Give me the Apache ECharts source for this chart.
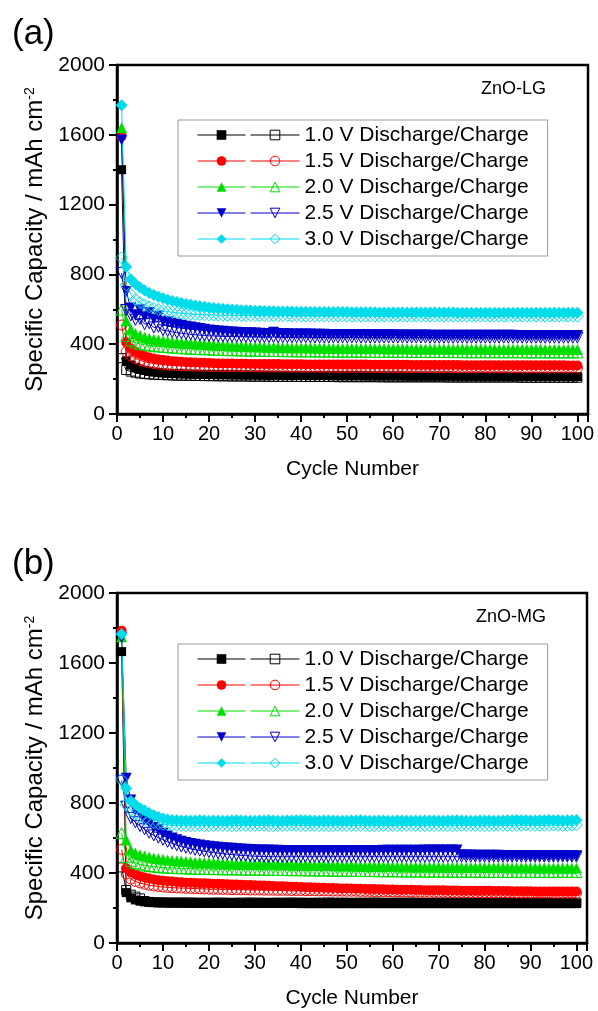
<!DOCTYPE html>
<html>
<head>
<meta charset="utf-8">
<script src="https://cdn.jsdelivr.net/npm/echarts@6/dist/echarts.min.js"></script>
<style>
html,body{margin:0;padding:0;background:#fff;}
#chart{width:598px;height:1011px;}
</style>
</head>
<body>
<div id="chart"></div>
<script>
// ---------- data ----------
const cycles = [1,2,3,4,5,6,7,8,9,10,11,12,13,14,15,16,17,18,19,20,21,22,23,24,25,26,27,28,29,30,
31,32,33,34,35,36,37,38,39,40,41,42,43,44,45,46,47,48,49,50,51,52,53,54,55,56,57,58,59,60,
61,62,63,64,65,66,67,68,69,70,71,72,73,74,75,76,77,78,79,80,81,82,83,84,85,86,87,88,89,90,
91,92,93,94,95,96,97,98,99,100];

const xTicks = [0,10,20,30,40,50,60,70,80,90,100];
const yTicks = [0,400,800,1200,1600,2000];
const voltages = ['1.0 V','1.5 V','2.0 V','2.5 V','3.0 V'];
const panelNames = ['ZnO-LG','ZnO-MG'];
const panelTags = ['(a)','(b)'];

// Panel (a) ZnO-LG
const a_dis_10 = [1400,305,280,266,256,249,244,240,237,235,233,232,231,230,229,228,228,227,227,226,
226,225,225,225,224,224,224,223,223,223,223,222,222,222,222,221,221,221,221,221,
220,220,220,220,220,220,219,219,219,219,219,219,219,218,218,218,218,218,218,218,
218,218,217,217,217,217,217,217,217,217,217,217,217,216,216,216,216,216,216,216,
216,216,216,216,216,215,215,215,215,215,215,215,215,215,215,215,215,215,215,214];
const a_chg_10 = [320,252,243,237,232,229,227,225,224,223,222,221,220,220,219,219,218,218,217,217,
217,216,216,216,215,215,215,215,214,214,214,214,214,213,213,213,213,213,213,212,
212,212,212,212,212,212,212,211,211,211,211,211,211,211,211,211,211,210,210,210,
210,210,210,210,210,210,210,210,210,210,210,209,209,209,209,209,209,209,209,209,
209,209,209,209,209,209,209,208,208,208,208,208,208,208,208,208,208,208,208,208];
const a_dis_15 = [1590,410,376,356,342,332,324,318,313,309,306,303,301,299,297,296,295,294,293,292,
291,290,290,289,289,288,288,288,287,287,287,286,286,286,286,285,285,285,285,285,
284,284,284,284,284,284,283,283,283,283,283,283,283,283,282,282,282,282,282,282,
282,282,282,281,281,281,281,281,281,281,281,281,281,281,280,280,280,280,280,280,
280,280,280,280,280,280,279,279,279,279,279,279,279,279,279,279,279,278,278,278];
const a_chg_15 = [510,357,333,318,307,299,293,289,286,283,281,279,278,277,276,275,274,274,273,273,
272,272,272,271,271,271,270,270,270,270,270,269,269,269,269,269,269,268,268,268,
268,268,268,268,268,267,267,267,267,267,267,267,267,267,267,266,266,266,266,266,
266,266,266,266,266,266,266,266,265,265,265,265,265,265,265,265,265,265,265,265,
265,264,264,264,264,264,264,264,264,264,264,264,264,264,264,264,264,264,264,263];
const a_dis_20 = [1640,535,485,462,450,440,433,428,424,420,417,414,411,409,407,405,403,401,399,397,
395,394,392,391,390,389,388,387,386,385,385,384,383,383,382,381,381,380,380,380,
379,379,378,378,378,377,377,377,376,376,376,376,375,375,375,375,375,374,374,374,
374,374,374,373,373,373,373,373,373,373,373,372,372,372,372,372,372,372,372,372,
372,371,371,371,371,371,371,371,371,371,371,371,370,370,370,370,370,370,370,370];
const a_chg_20 = [598,448,422,410,402,397,393,390,387,385,383,381,379,377,376,374,373,372,371,370,
369,368,367,366,366,365,364,364,363,363,362,362,361,361,361,360,360,360,359,359,
359,359,358,358,358,358,358,357,357,357,357,357,357,356,356,356,356,356,356,356,
356,356,355,355,355,355,355,355,355,355,355,355,355,355,354,354,354,354,354,354,
354,354,354,354,354,354,354,354,353,353,353,353,353,353,353,353,353,353,353,353];
const a_dis_25 = [1570,702,607,568,596,558,580,545,560,532,528,520,514,508,503,498,494,490,486,482,
479,476,474,472,470,468,467,466,465,464,463,462,462,468,461,460,460,459,459,458,
458,458,457,457,457,456,456,456,456,455,455,455,455,455,454,454,454,454,454,454,
453,453,453,453,453,453,453,452,452,452,452,452,452,452,452,451,451,451,451,451,
451,451,451,451,451,451,450,450,450,450,450,450,450,450,450,450,450,450,450,450];
const a_chg_25 = [808,596,565,540,545,515,520,496,500,480,476,470,466,462,459,456,454,452,450,448,
447,446,445,444,444,443,443,442,442,442,441,441,441,441,440,440,440,440,440,440,
440,439,439,439,439,439,439,439,439,439,439,439,438,438,438,438,438,438,438,438,
438,438,438,438,438,438,438,437,437,437,437,437,437,437,437,437,437,437,437,437,
437,437,437,437,437,437,437,437,437,437,437,437,437,437,437,437,437,437,437,437];
const a_dis_30 = [1770,844,772,745,725,708,694,682,672,663,655,648,642,636,631,626,622,618,614,611,
608,605,603,601,599,597,595,594,593,592,591,590,589,589,588,588,587,587,586,586,
586,585,585,585,585,584,584,584,584,584,583,583,583,583,583,583,582,582,582,582,
582,582,582,582,581,581,581,581,581,581,581,581,581,580,580,580,580,580,580,580,
580,580,580,580,580,580,580,580,580,580,580,580,580,580,580,580,580,580,580,580];
const a_chg_30 = [895,740,685,656,638,625,614,605,598,592,587,583,580,577,575,573,571,570,569,568,
567,566,566,565,565,565,564,564,564,564,563,563,563,563,563,563,563,562,562,562,
562,562,562,562,562,562,562,562,562,561,561,561,561,561,561,561,561,561,561,561,
561,561,561,561,561,561,561,561,561,561,561,561,561,561,561,561,561,561,561,561,
561,561,561,561,561,561,561,561,561,561,561,561,561,561,561,561,561,561,561,561];

// Panel (b) ZnO-MG
const b_dis_10 = [1665,288,258,246,239,235,233,232,231,230,230,229,229,229,228,228,228,228,228,227,
227,227,227,227,227,227,226,226,226,226,226,226,226,226,226,226,226,226,226,225,
225,225,225,225,225,225,225,225,225,225,225,225,225,225,225,225,225,225,225,225,
225,225,225,225,225,225,225,225,225,225,225,225,225,225,225,225,225,225,225,225,
225,225,225,225,225,225,225,225,225,225,225,225,225,225,225,225,225,225,225,225];
const b_chg_10 = [432,303,276,265,255,240,235,233,232,232,231,231,231,231,231,231,230,230,230,230,
230,231,230,230,229,230,230,230,231,230,230,230,229,230,230,230,230,231,230,230,
230,229,230,230,230,231,230,230,230,230,229,230,230,230,230,231,230,230,229,230,
230,230,230,231,230,230,230,229,230,230,230,230,231,230,230,230,229,230,230,230,
230,231,230,230,230,230,229,230,230,230,231,230,230,230,230,229,230,230,230,230];
const b_dis_15 = [1785,427,405,392,382,374,368,363,359,356,353,351,349,347,345,344,343,342,341,340,
339,338,337,336,335,334,333,332,331,330,329,328,327,326,325,324,323,322,321,320,
319,318,317,316,316,315,314,313,312,312,311,310,310,309,308,308,307,307,306,306,
305,305,304,304,303,303,302,302,301,301,301,300,300,300,299,299,299,298,298,298,
298,297,297,297,297,296,296,296,296,296,295,295,295,295,295,295,294,294,294,294];
const b_chg_15 = [535,394,366,352,343,336,330,326,323,320,318,316,315,314,313,312,311,310,309,308,
307,307,306,306,305,305,304,304,303,303,303,302,302,302,301,301,301,300,300,300,
299,299,299,298,298,298,297,297,297,296,296,296,295,295,295,294,294,294,293,293,
293,292,292,292,291,291,291,290,290,290,290,289,289,289,289,288,288,288,288,288,
287,287,287,287,287,287,286,286,286,286,286,286,286,286,285,285,285,285,285,285];
const b_dis_20 = [1750,589,531,515,505,497,491,486,482,478,475,472,470,468,466,464,462,461,460,459,
458,457,456,455,454,454,453,452,452,451,451,450,450,449,449,448,448,447,447,446,
446,445,445,444,444,443,443,442,442,441,441,440,440,439,439,438,438,437,437,437,
436,436,436,435,435,435,434,434,434,434,433,433,433,433,432,432,432,432,432,431,
431,431,431,431,430,430,430,430,430,430,430,429,429,429,429,429,429,429,428,428];
const b_chg_20 = [628,492,470,458,450,444,440,437,434,432,430,429,428,427,426,425,424,424,423,423,
422,422,421,421,421,420,420,420,419,419,419,418,418,418,417,417,417,416,416,416,
415,415,415,414,414,414,413,413,413,412,412,412,411,411,411,411,410,410,410,410,
410,409,409,409,409,409,408,408,408,408,408,408,407,407,407,407,407,407,407,407,
406,406,406,406,406,406,406,406,406,406,406,406,406,406,406,406,406,406,406,406];
const b_dis_25 = [1745,941,817,760,743,703,684,660,646,627,612,600,590,582,575,569,564,560,556,553,
550,547,545,543,541,539,537,536,534,533,532,531,531,530,530,529,529,529,528,528,
528,528,528,528,528,528,528,528,528,528,528,529,529,529,529,529,529,530,530,530,
530,530,530,530,530,530,531,531,531,531,531,531,531,531,504,503,503,502,502,502,
501,501,501,500,500,500,500,500,500,499,499,499,499,499,499,499,499,499,499,499];
const b_chg_25 = [927,779,714,690,668,650,630,615,602,590,578,568,559,551,544,538,533,528,524,520,
516,513,510,507,505,503,501,499,497,496,495,494,493,493,493,493,493,493,493,493,
493,493,493,493,493,493,493,493,493,493,493,493,493,493,493,493,493,493,493,493,
493,493,493,493,493,493,493,493,493,493,493,493,493,493,493,493,493,493,493,493,
493,493,493,493,493,493,493,493,493,493,493,493,493,493,493,493,493,493,493,493];
const b_dis_30 = [1766,884,812,790,772,757,743,730,720,712,706,703,701,700,700,699,700,701,700,699,
700,699,698,699,700,701,700,699,698,699,700,700,701,700,699,699,700,700,701,702,
701,700,699,699,700,700,700,699,698,699,700,700,701,700,699,699,700,700,699,699,
700,700,699,699,698,699,700,700,700,699,699,700,700,701,700,699,699,699,700,700,
700,699,699,700,701,702,703,702,701,700,700,701,702,703,702,701,700,701,702,703];
const b_chg_30 = [932,790,758,738,722,708,697,688,682,678,675,673,672,671,670,670,670,671,670,670,
671,672,672,671,670,671,672,672,671,671,672,672,671,670,671,672,672,673,672,671,
671,672,672,671,671,670,671,672,672,671,671,671,672,671,670,670,671,672,671,671,
670,671,672,672,671,671,670,671,671,672,672,671,670,671,671,672,672,671,671,670,
671,672,673,672,671,671,672,673,674,673,672,671,672,673,674,673,672,673,674,675];

const panelDis = [[a_dis_10,a_dis_15,a_dis_20,a_dis_25,a_dis_30],[b_dis_10,b_dis_15,b_dis_20,b_dis_25,b_dis_30]];
const panelChg = [[a_chg_10,a_chg_15,a_chg_20,a_chg_25,a_chg_30],[b_chg_10,b_chg_15,b_chg_20,b_chg_25,b_chg_30]];

// ---------- styles ----------
const colors = ['#000000','#ff0000','#00dd00','#0000cc','#00dcea'];
const symbols = ['rect','circle','triangle','triangle','diamond'];
const rotates = [0,0,0,180,0];
const sizes = [9,10,11,11,12];
const FONT = '"Liberation Sans", Arial, sans-serif';

const grids = [
  {left:117, top:65, width:471, height:349},
  {left:117, top:593, width:470, height:350}
];
const legendTops = [120, 644];

const chart = echarts.init(document.getElementById('chart'), null, {renderer:'canvas'});

const series = [];
const legends = [];
const titles = [];
const labelMap = {};

for (let p = 0; p < 2; p++) {
  const disNames = [], chgNames = [];
  for (let v = 0; v < 5; v++) {
    const dn = voltages[v] + ' Discharge ' + panelTags[p];
    const cn = voltages[v] + ' Charge ' + panelTags[p];
    disNames.push(dn); chgNames.push(cn);
    labelMap[cn] = voltages[v] + ' Discharge/Charge';
    series.push({
      name: dn, type:'line', xAxisIndex:p, yAxisIndex:p,
      data: cycles.map((c,i)=>[c, panelDis[p][v][i]]),
      symbol: symbols[v], symbolSize: sizes[v], symbolRotate: rotates[v],
      showSymbol:true, itemStyle:{color:colors[v]},
      lineStyle:{color:colors[v], width:1}, emphasis:{disabled:true}, animation:false
    });
    series.push({
      name: cn, type:'line', xAxisIndex:p, yAxisIndex:p,
      data: cycles.map((c,i)=>[c, panelChg[p][v][i]]),
      symbol: symbols[v], symbolSize: sizes[v], symbolRotate: rotates[v],
      showSymbol:true, itemStyle:{color:'rgba(255,255,255,0)', borderColor:colors[v], borderWidth:1},
      lineStyle:{color:colors[v], width:1}, emphasis:{disabled:true}, animation:false
    });
  }
  legends.push({
    data: chgNames, orient:'vertical', left:178, top:legendTops[p],
    padding:[2,19,4,72], itemGap:0, itemWidth:49, itemHeight:12,
    formatter: (n)=>labelMap[n],
    textStyle:{fontSize:21, lineHeight:26, color:'#000', fontFamily:FONT},
    itemStyle:{borderWidth:1}, lineStyle:{width:1},
    borderColor:'#999', borderWidth:1, selectedMode:false, z:3
  });
  legends.push({
    data: disNames, orient:'vertical', left:197, top:legendTops[p]+2,
    padding:0, itemGap:0, itemWidth:48, itemHeight:12,
    formatter: ()=>' ',
    textStyle:{fontSize:21, lineHeight:26, color:'#000', fontFamily:FONT},
    itemStyle:{borderWidth:0}, lineStyle:{width:1},
    selectedMode:false, z:4
  });
  titles.push({text: panelTags[p], left:12, top: p===0 ? 17 : 547, padding:0,
    textStyle:{fontSize:35, fontWeight:'normal', color:'#000', fontFamily:FONT}});
  titles.push({text: panelNames[p], right:52, top: p===0 ? 80 : 608, padding:0,
    textStyle:{fontSize:18, fontWeight:'normal', color:'#000', fontFamily:FONT}});
}

const xAxes = grids.map((g,i)=>({
  gridIndex:i, type:'value', min:0, max:102.3, interval:10,
  axisLine:{onZero:false, lineStyle:{color:'#000', width:2.5}},
  axisTick:{length:8, lineStyle:{color:'#000', width:2}},
  minorTick:{show:true, splitNumber:2, length:4, lineStyle:{color:'#000', width:2}},
  splitLine:{show:false}, minorSplitLine:{show:false},
  axisLabel:{fontSize:20, color:'#000', margin:10, fontFamily:FONT, showMaxLabel:false,
    formatter:(v)=> xTicks.indexOf(v) >= 0 ? String(v) : ''},
  name:'Cycle Number', nameLocation:'middle', nameGap:45,
  nameTextStyle:{fontSize:21, color:'#000', fontFamily:FONT}
}));
const yAxes = grids.map((g,i)=>({
  gridIndex:i, type:'value', min:0, max:2000, interval:400,
  axisLine:{show:true, onZero:false, lineStyle:{color:'#000', width:2.5}},
  axisTick:{show:true, length:8, lineStyle:{color:'#000', width:2}},
  minorTick:{show:true, splitNumber:2, length:4, lineStyle:{color:'#000', width:2}},
  splitLine:{show:false}, minorSplitLine:{show:false},
  axisLabel:{fontSize:21, color:'#000', margin:12, fontFamily:FONT,
    formatter:(v)=> yTicks.indexOf(v) >= 0 ? String(v) : ''},
  name:'{m|Specific Capacity / mAh cm}{s|-2}', nameLocation:'middle', nameGap:68, nameRotate:90,
  nameTextStyle:{fontSize:24, color:'#000', fontFamily:FONT,
    rich:{m:{fontSize:24, color:'#000', fontFamily:FONT}, s:{fontSize:14, color:'#000', fontFamily:FONT, verticalAlign:'top'}}}
}));

chart.setOption({
  animation:false,
  backgroundColor:'#fff',
  textStyle:{fontFamily:FONT},
  title: titles,
  grid: grids.map(g=>Object.assign({show:true, borderColor:'#000', borderWidth:2.5, backgroundColor:'rgba(0,0,0,0)', containLabel:false, outerBoundsMode:'none'}, g)),
  xAxis: xAxes,
  yAxis: yAxes,
  legend: legends,
  series: series
});
</script>
</body>
</html>
